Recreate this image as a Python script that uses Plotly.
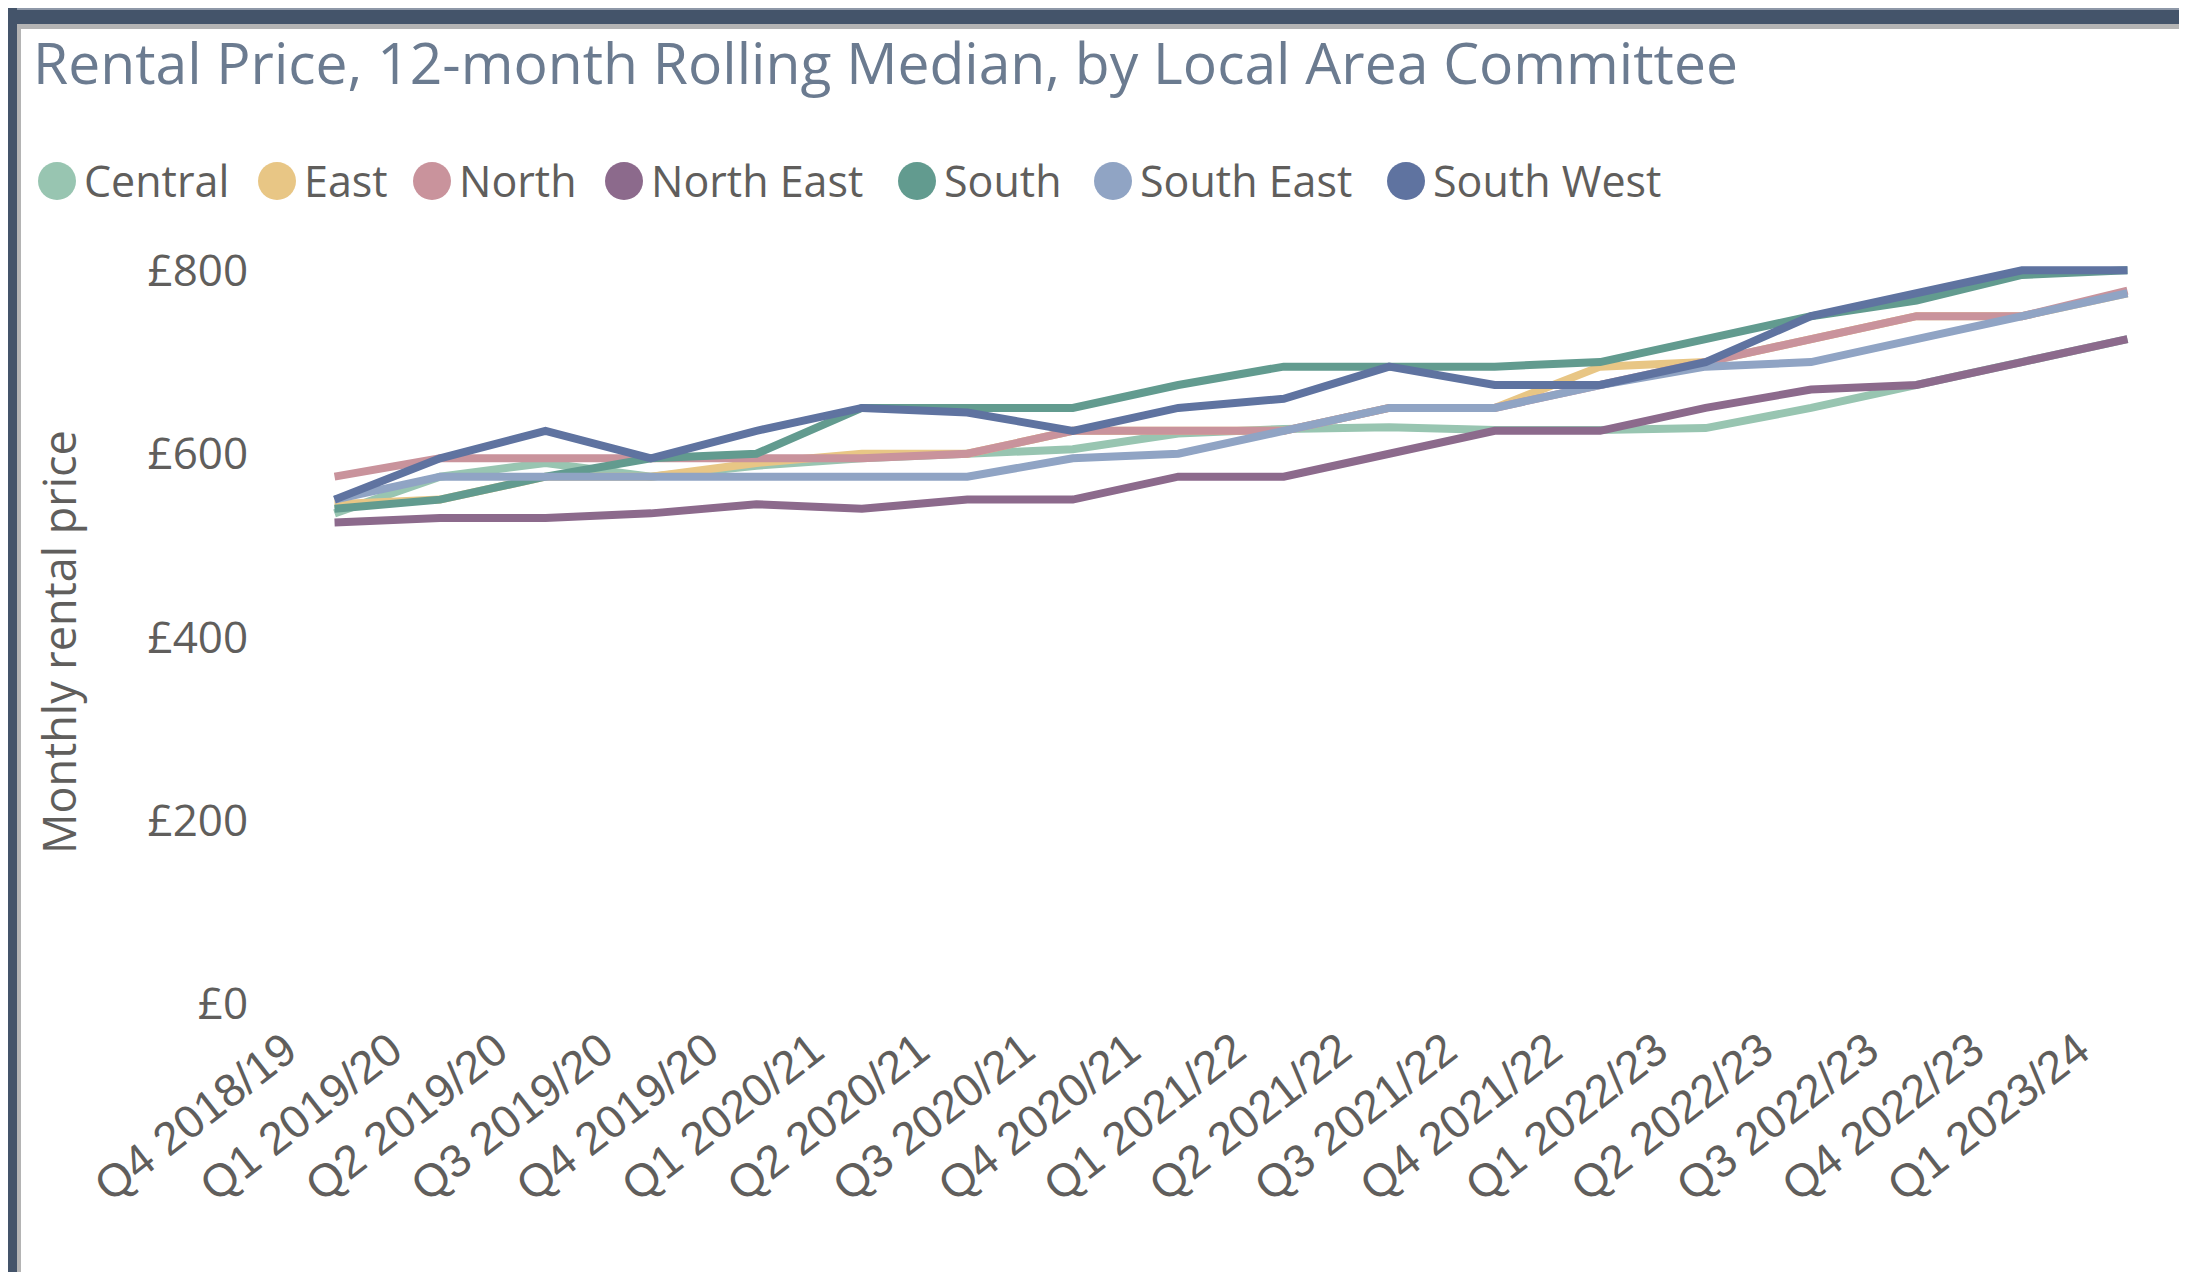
import plotly.graph_objects as go

# ---------------- data ----------------
quarters = [
    "Q4 2018/19", "Q1 2019/20", "Q2 2019/20", "Q3 2019/20", "Q4 2019/20",
    "Q1 2020/21", "Q2 2020/21", "Q3 2020/21", "Q4 2020/21", "Q1 2021/22",
    "Q2 2021/22", "Q3 2021/22", "Q4 2021/22", "Q1 2022/23", "Q2 2022/23",
    "Q3 2022/23", "Q4 2022/23", "Q1 2023/24",
]

central    = [535, 575, 590, 575, 587, 595, 600, 605, 622, 627, 629, 626, 626, 628, 650, 675, 700, 725]
east       = [545, 550, 575, 575, 590, 600, 600, 625, 625, 625, 650, 650, 695, 700, 725, 750, 750, 775]
north      = [575, 595, 595, 595, 595, 595, 600, 625, 625, 625, 650, 650, 675, 700, 725, 750, 750, 778]
north_east = [525, 530, 530, 535, 545, 540, 550, 550, 575, 575, 600, 625, 625, 650, 670, 675, 700, 725]
south      = [540, 550, 575, 595, 600, 650, 650, 650, 675, 695, 695, 695, 700, 725, 750, 767, 795, 800]
south_east = [550, 575, 575, 575, 575, 575, 575, 595, 600, 625, 650, 650, 675, 695, 700, 725, 750, 775]
south_west = [550, 595, 625, 595, 625, 650, 645, 625, 650, 660, 695, 675, 675, 700, 750, 775, 800, 800]

series_names = ["Central", "East", "North", "North East", "South", "South East", "South West"]
series_values = [central, east, north, north_east, south, south_east, south_west]

y_tick_values = [0, 200, 400, 600, 800]
y_tick_labels = ["£0", "£200", "£400", "£600", "£800"]

title_text = "Rental Price, 12-month Rolling Median, by Local Area Committee"
y_title_text = "Monthly rental price"

# ---------------- styles / layout ----------------
colors = ["#98C5B1", "#E8C685", "#C9939C", "#8C6A8C", "#629B8F", "#90A4C4", "#5F73A0"]
FONT = "Segoe UI, Open Sans, sans-serif"
XFONT = "Arial, Liberation Sans, sans-serif"
TEXT_GREY = "#605E5C"
TITLE_COLOR = "#6B7B90"
FRAME_DARK = "#44546A"
FRAME_GREY = "#B4B4B4"

W, H = 2187, 1272
ML, MR, MT, MB = 316, 57, 244, 276
X_RANGE = [-0.1, len(quarters) - 1 + 0.1]
Y_RANGE = [0, 820]


def px_x(px):
    return (px - ML) / (W - ML - MR)


def px_y(py):
    return (H - MB - py) / (H - MT - MB)


fig = go.Figure()
for name, vals, col in zip(series_names, series_values, colors):
    fig.add_trace(go.Scatter(
        x=quarters, y=vals, name=name, mode="lines",
        line=dict(color=col, width=8), showlegend=False,
        hovertemplate="%{x}<br>£%{y}<extra>" + name + "</extra>",
    ))

shapes = []


def rect(x0, y0, x1, y1, color):
    shapes.append(dict(type="rect", xref="paper", yref="paper",
                       x0=px_x(x0), x1=px_x(x1), y0=px_y(y1), y1=px_y(y0),
                       fillcolor=color, line=dict(width=0), layer="above"))


# frame
rect(0, 0, W, 16, FRAME_DARK)
rect(0, 0, W, 2, "#8E98A8")
rect(9, 16, 2176, 21, FRAME_GREY)
rect(0, 0, 9, H, FRAME_DARK)
rect(9, 16, 13, H, FRAME_GREY)
rect(2172, 16, 2176, H, FRAME_GREY)
rect(2176, 0, W, H, FRAME_DARK)

# custom legend (large circles)
legend_circle_x = [49, 269, 424, 616, 909, 1105, 1398]
legend_y = 173
legend_r = 19
annotations = []
for name, col, cx in zip(series_names, colors, legend_circle_x):
    shapes.append(dict(type="circle", xref="paper", yref="paper",
                       x0=px_x(cx - legend_r), x1=px_x(cx + legend_r),
                       y0=px_y(legend_y + legend_r), y1=px_y(legend_y - legend_r),
                       fillcolor=col, line=dict(width=0)))
    annotations.append(dict(text=name, xref="paper", yref="paper",
                            x=px_x(cx + 25), y=px_y(legend_y - 1),
                            xanchor="left", yanchor="middle", showarrow=False,
                            font=dict(family=FONT, size=43, color=TEXT_GREY)))

annotations.append(dict(text=y_title_text, xref="paper", yref="paper",
                        x=px_x(50), y=px_y(634), textangle=-90,
                        xanchor="center", yanchor="middle", showarrow=False,
                        font=dict(family=FONT, size=45, color=TEXT_GREY)))

fig.update_layout(
    width=W, height=H,
    margin=dict(l=ML, r=MR, t=MT, b=MB, autoexpand=False),
    paper_bgcolor="white", plot_bgcolor="white",
    title=dict(text=title_text, xref="container", yref="container",
               x=25 / W, y=1 - 56 / H, xanchor="left", yanchor="middle",
               font=dict(family=FONT, size=57, color=TITLE_COLOR)),
    shapes=shapes, annotations=annotations,
    showlegend=False,
)
fig.update_xaxes(type="category", range=X_RANGE, showgrid=False, showline=False,
                 zeroline=False, tickangle=-38, tickmode="linear", dtick=1,
                 ticks="outside", ticklen=0, tickcolor="rgba(0,0,0,0)",
                 ticklabelshift=-49,
                 tickfont=dict(family=XFONT, size=46, color=TEXT_GREY), automargin=False)
fig.update_yaxes(range=Y_RANGE, showgrid=False, showline=False, zeroline=False,
                 tickmode="array", tickvals=y_tick_values, ticktext=y_tick_labels,
                 ticks="outside", ticklen=66, tickcolor="rgba(0,0,0,0)",
                 tickfont=dict(family=FONT, size=44, color=TEXT_GREY), automargin=False)

fig.write_html("out.html")
